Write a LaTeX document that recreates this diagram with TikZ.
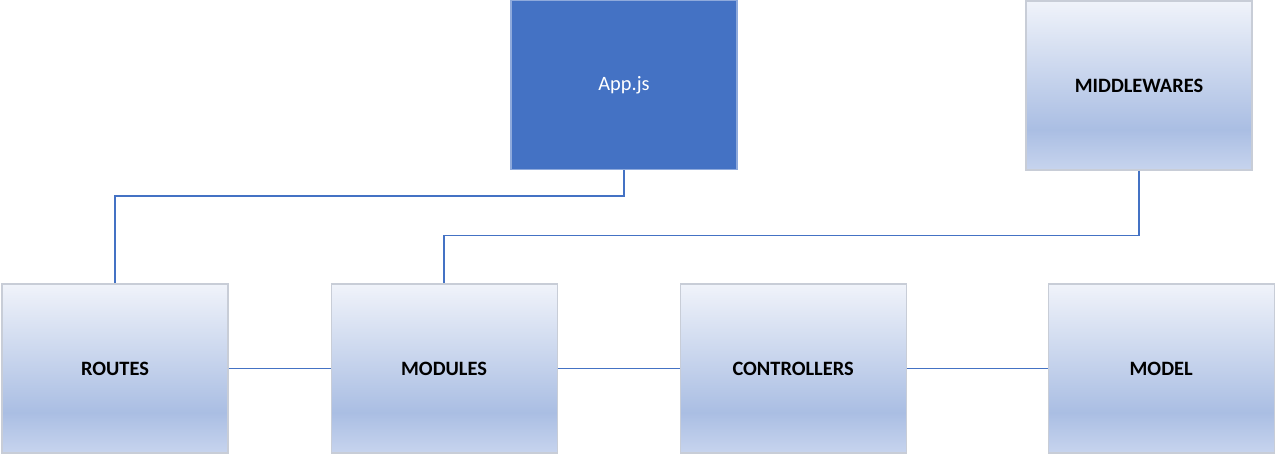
\documentclass[tikz,border=0pt]{standalone}
\usepackage{fontspec}
\setmainfont{Carlito}
\usetikzlibrary{positioning}
\definecolor{appblue}{RGB}{68, 114, 196}
\definecolor{appedge}{RGB}{143, 170, 220}
\definecolor{boxedge}{RGB}{200, 205, 215}
\definecolor{gradtop}{RGB}{240, 243, 250}
\definecolor{gradmid}{RGB}{170, 190, 227}
\definecolor{gradbot}{RGB}{199, 212, 238}
\definecolor{wireblue}{RGB}{68, 114, 196}
\pgfdeclareverticalshading{boxgrad}{100bp}{color(0bp)=(gradbot); color(25bp)=(gradbot);
  color(37bp)=(gradmid); color(75bp)=(gradtop); color(100bp)=(gradtop)}

\begin{document}
\begin{tikzpicture}[
  layer/.style={rectangle, draw=boxedge, line width=0.6pt, shading=boxgrad,
                minimum width=4.52cm, minimum height=3.38cm, inner sep=0pt,
                font=\fontsize{11.6}{13}\selectfont\bfseries},
  entry/.style={rectangle, draw=appedge, line width=0.6pt, fill=appblue, text=white,
                minimum width=4.52cm, minimum height=3.38cm, inner sep=0pt,
                font=\fontsize{11.6}{13}\selectfont},
  wire/.style={draw=wireblue, line width=1pt}
]
\useasboundingbox (0,0) rectangle (25.76,-9.4);

\node[layer] (routes) at (2.30,-7.37) {ROUTES};
\node[layer, right=2.04cm of routes] (modules) {MODULES};
\node[layer, right=2.44cm of modules] (controllers) {CONTROLLERS};
\node[layer, right=2.82cm of controllers] (model) {MODEL};
\node[entry] (app) at (12.48,-1.70) {App.js};
\node[layer] (middlewares) at (22.78,-1.71) {MIDDLEWARES};

\draw[wire] (app.south) -- ++(0,-0.52) -| (routes.north);
\draw[wire] (middlewares.south) -- ++(0,-1.30) -| (modules.north);
\draw[wire] (routes) -- (modules);
\draw[wire] (modules) -- (controllers);
\draw[wire] (controllers) -- (model);
\end{tikzpicture}
\end{document}
